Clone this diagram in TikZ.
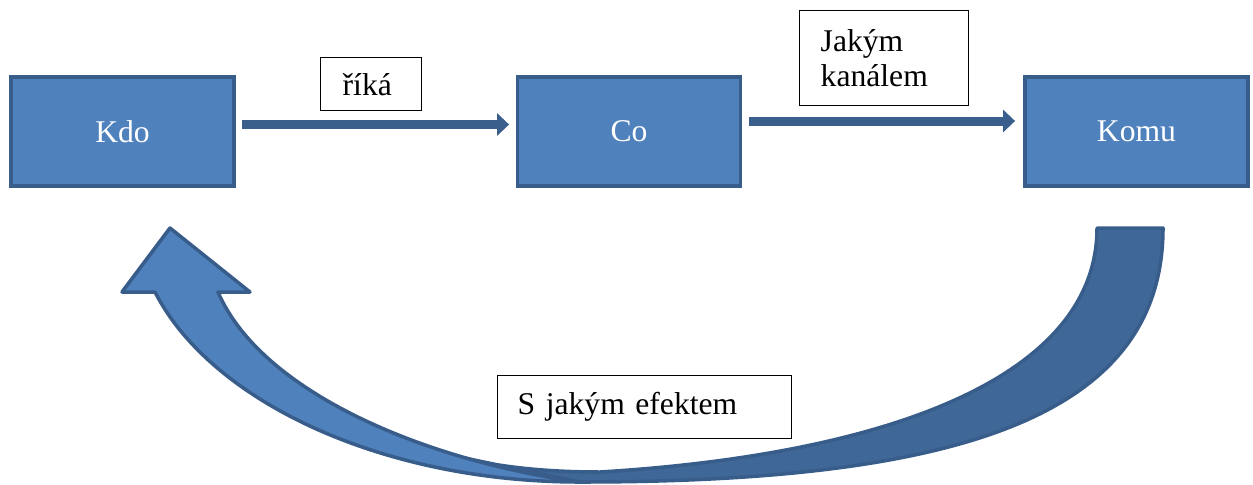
\documentclass[tikz,border=0pt]{standalone}
\usepackage{fontspec}
\setmainfont{Liberation Serif}
\usetikzlibrary{arrows.meta,positioning,calc}
\definecolor{boxblue}{HTML}{4F81BD}
\definecolor{edgeblue}{HTML}{385D8A}
\definecolor{shadeblue}{HTML}{3F6797}
\definecolor{flowblue}{HTML}{3B5F8D}

\begin{document}
\begin{tikzpicture}[x=0.02cm, y=-0.02cm, font=\fontsize{18}{20}\selectfont,
  role/.style={draw=edgeblue, line width=2.2pt, fill=boxblue, text=white, minimum width=4.46cm, minimum height=2.18cm, inner sep=0pt},
  tag/.style={draw, line width=0.8pt, fill=white, align=left, inner ysep=0pt, anchor=north west},
  flow/.style={flowblue, line width=0.18cm, -{Triangle[length=0.24cm,width=0.44cm]}}]
\useasboundingbox (0,0) rectangle (1253,484);
\def\bw{4.46cm}
\node[role] (kdo) at (122.5,131.5) {Kdo};
\node[role] (co) at (629,131.5) {Co};
\node[role] (komu) at (1136.5,131.5) {Komu};

\node[tag, inner xsep=0.44cm, text width=1.14cm, minimum height=1.06cm] (rika) at (320,57) {říká};
\node[tag, inner xsep=0.42cm, text width=2.54cm, minimum height=1.9cm] (kanal) at (799,10) {Jakým\\kanálem};
\node[tag, inner xsep=0.4cm, text width=5.08cm, minimum height=1.26cm] (efekt) at (497,375) {S jakým efektem};

\draw[flow] ($(kdo.east)+(6,-7)$) -- ($(co.west)+(-6.5,-7)$);
\draw[flow] ($(co.east)+(6.5,-10.5)$) -- ($(komu.west)+(-8,-10.5)$);

\filldraw[fill=shadeblue, draw=edgeblue, line width=2pt, line join=round] (1097,228) -- (1163,228) .. controls (1163,420) and (950,482) .. (580,482) -- (450,455) .. controls (500,468) and (550,472) .. (600,472) .. controls (880,455) and (1097,380) .. (1097,228) -- cycle;
\filldraw[fill=boxblue, draw=edgeblue, line width=2pt, line join=round] (580,482) .. controls (380,482) and (210,400) .. (155,292) -- (122,292) -- (170,228) -- (250,292) -- (218,292) .. controls (260,390) and (420,460) .. (580,482) -- cycle;
\end{tikzpicture}
\end{document}
